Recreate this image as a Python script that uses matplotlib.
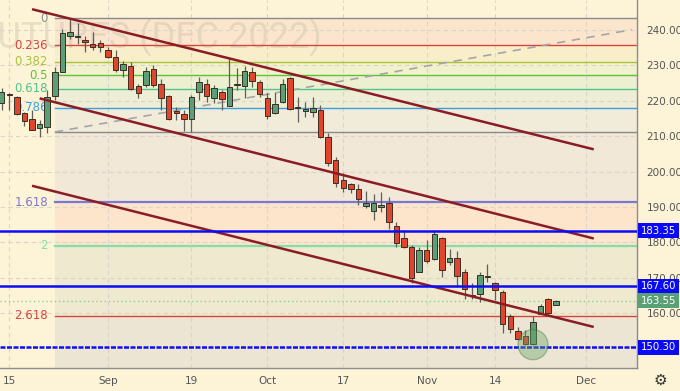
import matplotlib
matplotlib.use("Agg")
import matplotlib.pyplot as plt
from matplotlib.patches import Ellipse
import matplotlib.transforms as mtransforms
from matplotlib import font_manager
import numpy as np
import pandas as pd

# daily candles, Aug 12 - Nov 25 2022
opens = [219.4, 221.8, 221.0, 216.5, 214.8, 212.2, 212.5, 221.4, 228.2, 238.3,
         238.2, 237.2, 236.2, 236.4, 234.5, 232.5, 228.7, 229.9, 224.3, 224.6,
         228.9, 224.7, 221.3, 217.1, 216.2, 214.8, 222.4, 224.7, 220.7, 222.4,
         218.6, 224.9, 224.3, 228.2, 225.2, 220.7, 216.5, 219.7, 226.4, 218.1,
         217.1, 216.9, 217.4, 209.7, 203.2, 197.6, 196.5, 195.1, 190.2, 188.8,
         190.1, 191.0, 184.7, 181.1, 178.7, 171.7, 177.8, 175.3, 181.1, 174.5,
         175.6, 171.5, 165.1, 165.4, 170.3, 168.6, 166.0, 159.2, 154.9, 153.6,
         151.4, 159.9, 163.9, 162.3]
highs = [223.6, 222.2, 221.3, 216.9, 217.4, 214.6, 223.0, 229.6, 240.2, 243.0,
         242.1, 238.3, 239.5, 237.2, 235.3, 234.3, 231.3, 231.0, 224.9, 229.6,
         230.1, 226.1, 221.6, 218.3, 217.4, 221.6, 226.8, 226.3, 224.5, 223.0,
         232.0, 229.2, 229.8, 229.6, 225.9, 222.1, 222.6, 226.3, 226.8, 221.1,
         219.7, 221.1, 218.8, 210.8, 204.2, 199.5, 196.9, 196.6, 194.5, 193.8,
         194.3, 192.9, 185.8, 183.5, 179.2, 178.7, 180.6, 183.5, 181.4, 178.0,
         177.5, 172.6, 168.6, 171.5, 173.8, 168.9, 166.5, 159.9, 156.1, 155.2,
         159.1, 162.5, 164.2, 163.6]
lows = [217.4, 217.4, 216.0, 212.9, 211.7, 209.8, 210.8, 220.2, 228.1, 237.6,
        236.2, 233.9, 234.3, 233.9, 232.0, 228.2, 226.8, 223.2, 220.9, 224.0,
        224.0, 217.4, 214.6, 214.6, 211.4, 211.3, 220.2, 219.7, 219.3, 217.4,
        218.5, 223.0, 220.7, 224.0, 221.1, 215.0, 216.4, 219.3, 217.4, 214.1,
        215.5, 215.5, 209.4, 201.6, 195.7, 194.3, 194.0, 190.5, 189.6, 186.3,
        188.6, 183.7, 178.7, 178.3, 168.4, 171.5, 174.1, 175.0, 170.3, 173.6,
        167.4, 164.0, 164.1, 163.2, 168.9, 163.7, 154.3, 154.5, 152.4, 151.0,
        151.0, 159.7, 159.9, 162.2]
closes = [222.5, 221.6, 216.3, 214.4, 211.9, 213.4, 221.1, 228.2, 239.1, 239.5,
          238.1, 236.6, 235.3, 235.3, 232.5, 228.7, 230.3, 223.3, 222.1, 228.5,
          224.6, 220.7, 214.8, 216.5, 215.0, 221.1, 225.2, 221.4, 223.5, 220.5,
          223.8, 224.4, 228.5, 225.7, 221.9, 215.8, 219.1, 224.7, 217.7, 217.9,
          217.7, 217.9, 209.7, 202.3, 196.7, 195.5, 195.2, 192.4, 191.2, 191.0,
          190.5, 185.8, 179.7, 178.7, 169.8, 177.8, 174.8, 182.3, 172.2, 175.6,
          170.5, 166.7, 164.9, 170.9, 170.1, 166.5, 156.8, 155.5, 152.7, 151.4,
          157.5, 162.0, 160.1, 163.55]

tick_dates = ["2022-08-15", "2022-09-01", "2022-09-19", "2022-10-03",
              "2022-10-17", "2022-11-01", "2022-11-14", "2022-12-01"]
tick_labels = ["15", "Sep", "19", "Oct", "17", "Nov", "14", "Dec"]

# fib retracement (0 and 1 anchors)
fib_top = 243.3
fib_bottom = 211.2
fib_ratios = [0, 0.236, 0.382, 0.5, 0.618, 0.786, 1, 1.618, 2, 2.618]
fib_labels = ["0", "0.236", "0.382", "0.5", "0.618", "0.786", "", "1.618", "2", "2.618"]
fib_line_colors = ["#8a8a8a", "#d9443a", "#a9c43a", "#5cc23e", "#4fc58e", "#3a9fdc",
                   "#8a8a8a", "#7a78d0", "#86dcaa", "#d9443a"]
fib_fill_colors = ["#fbe6cd", "#f8efca", "#f2f1cd", "#edf0d0", "#eeeed6", "#f1ecd9",
                   "#f1e8d7", "#fce5cb", "#efe9cf", "#ece5d3"]
fib_start = "2022-08-23"

# horizontal levels and last price
levels = [183.35, 167.60, 150.30]
last_price = 163.55

# descending channel lines: (start date, start price, end date, end price)
channel_upper = ("2022-08-18", 245.9, "2022-12-02", 206.3)
channel_mid = ("2022-08-19", 220.7, "2022-12-02", 181.1)
channel_lower = ("2022-08-18", 196.0, "2022-12-02", 156.1)
dashed_line = ("2022-08-23", 211.2, "2022-12-09", 240.1)

dates = pd.bdate_range("2022-08-12", "2022-12-12", freq="C",
                       holidays=["2022-09-05", "2022-11-24"])
n = len(opens)


def pos(d):
    return dates.get_loc(pd.Timestamp(d))


bg = "#fdf3d6"
fig = plt.figure(figsize=(6.8, 3.91), dpi=100, facecolor=bg)
ax = fig.add_axes([0, 23 / 391, 637 / 680, 368 / 391])
ax.set_facecolor(bg)

xmin, xmax = -0.22, 83.7
ymin, ymax = 144.5, 248.5
ax.set_xlim(xmin, xmax)
ax.set_ylim(ymin, ymax)

# watermark (narrow face if it is there)
names = {f.name for f in font_manager.fontManager.ttflist}
if "Liberation Sans Narrow" in names:
    wm_family, wm_size = "Liberation Sans Narrow", 30
else:
    wm_family, wm_size = "Roboto", 26
ax.text(322 / 637, 1 - 38 / 368, "COFFEE FUTURES (DEC 2022)", transform=ax.transAxes,
        ha="right", va="center", fontsize=wm_size, family=wm_family, color="#b8b0a0",
        alpha=0.3, clip_on=True, zorder=1)

# fib zones and lines
rng = fib_top - fib_bottom
fib_prices = [fib_top - r * rng for r in fib_ratios]
x0 = pos(fib_start)
edges = fib_prices + [ymin]
for i in range(len(fib_prices)):
    ax.fill_between([x0, xmax], edges[i + 1], edges[i], color=fib_fill_colors[i],
                    lw=0, zorder=0.5)
for i, p in enumerate(fib_prices):
    lw = 1.6 if fib_ratios[i] in (1.618, 2) else 1.0
    ax.plot([x0, xmax], [p, p], color=fib_line_colors[i], lw=lw, zorder=2)
    if fib_labels[i]:
        ax.text(x0 - 0.9, p, fib_labels[i], ha="right", va="center", fontsize=8.5,
                color=fib_line_colors[i], zorder=3)

# grid
yticks = np.arange(160, 241, 10)
xt = [pos(d) for d in tick_dates]
for y in yticks:
    ax.axhline(y, color="#d9d5cb", lw=0.8, ls=(0, (4, 3)), zorder=1)
for x in xt:
    ax.axvline(x, color="#d9d5cb", lw=0.8, ls=(0, (4, 3)), zorder=1)

# dashed trend line
ax.plot([pos(dashed_line[0]), pos(dashed_line[2])], [dashed_line[1], dashed_line[3]],
        color="#a5a5a5", lw=1.2, ls=(0, (5, 4)), zorder=2.5)

# candles
idx = np.arange(n)
o = np.array(opens)
c = np.array(closes)
up = c >= o
ax.vlines(idx, lows, highs, color="#5e5e5e", lw=0.9, zorder=4)
body_h = np.maximum(np.abs(c - o), 0.35)
ax.bar(idx, body_h, bottom=np.minimum(o, c), width=0.72,
       color=np.where(up, "#5b9f77", "#e0452e"), edgecolor="#3a2e26", lw=0.7, zorder=5)

# channel lines
for ln in (channel_upper, channel_mid, channel_lower):
    ax.plot([pos(ln[0]), pos(ln[2])], [ln[1], ln[3]], color="#8b1c26", lw=1.8,
            zorder=6, solid_capstyle="butt")

# last price dotted line
ax.axhline(last_price, color="#8fcf9a", lw=1.0, ls=(0, (1, 2)), zorder=3)

# blue levels
for lv in levels:
    ls = (0, (2, 0.6)) if lv == min(levels) else "-"
    ax.axhline(lv, color="#0c0cf5", lw=1.8, ls=ls, zorder=7)

# circle around the low
ax.add_patch(Ellipse((70, 151.1), width=3.95, height=8.5, facecolor="#6aa66a",
                     alpha=0.4, edgecolor="#3d7a3d", lw=1.0, zorder=8))

# axes styling
for s in ("top", "left"):
    ax.spines[s].set_visible(False)
for s in ("bottom", "right"):
    ax.spines[s].set_color("#8c8c8c")
    ax.spines[s].set_linewidth(1.0)
ax.yaxis.tick_right()
ax.set_yticks(yticks)
ax.set_yticklabels([f"{v:.2f}" for v in yticks])
ax.set_xticks(xt)
ax.set_xticklabels(tick_labels)
ax.tick_params(axis="y", length=0, pad=7, labelsize=7.5, labelcolor="#555555")
ax.tick_params(axis="x", length=0, pad=6, labelsize=7.5, labelcolor="#555555")

# price boxes on the right scale
trans = mtransforms.blended_transform_factory(ax.transAxes, ax.transData)
for lv in levels:
    ax.text(1.0 + 4 / 637, lv, f"{lv:.2f}", transform=trans, ha="left", va="center",
            fontsize=7.3, color="white", clip_on=False, zorder=10,
            bbox=dict(boxstyle="square,pad=0.25", fc="#0a0af5", ec="none"))
ax.text(1.0 + 4 / 637, last_price, f"{last_price:.2f}", transform=trans, ha="left",
        va="center", fontsize=7.3, color="white", clip_on=False, zorder=10,
        bbox=dict(boxstyle="square,pad=0.25", fc="#5b9f77", ec="none"))

fig.text(660 / 680, 1 - 380 / 391, "\u2699", ha="center", va="center", fontsize=11,
         color="#333333")

fig.savefig("out.png", dpi=100, facecolor=bg)
